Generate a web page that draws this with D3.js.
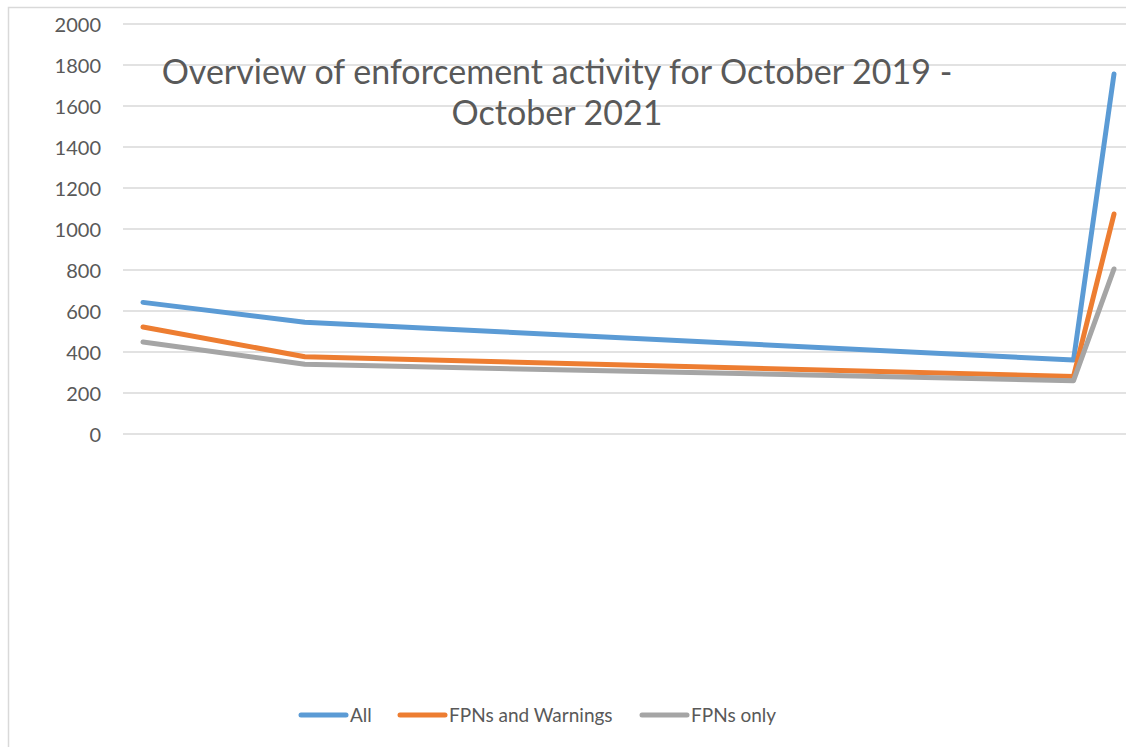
<!DOCTYPE html>
<html>
<head>
<meta charset="utf-8">
<script src="https://cdn.jsdelivr.net/npm/d3@7"></script>
<style>
  html, body { margin: 0; padding: 0; background: #fff; }
  svg { display: block; }
</style>
</head>
<body>
<svg id="chart" width="1126" height="747"></svg>
<script>
// months Oct 2019 .. Oct 2021, only some have figures
var months = ["Oct 2019","Nov 2019","Dec 2019","Jan 2020","Feb 2020","Mar 2020","Apr 2020","May 2020",
              "Jun 2020","Jul 2020","Aug 2020","Sep 2020","Oct 2020","Nov 2020","Dec 2020","Jan 2021",
              "Feb 2021","Mar 2021","Apr 2021","May 2021","Jun 2021","Jul 2021","Aug 2021","Sep 2021","Oct 2021"];

var allValues      = [642, null, null, null, 545, null, null, null, null, null, null, null, null, null, null, null, null, null, null, null, null, null, null, 361, 1756];
var fpnWarnValues  = [522, null, null, null, 377, null, null, null, null, null, null, null, null, null, null, null, null, null, null, null, null, null, null, 281, 1073];
var fpnOnlyValues  = [449, null, null, null, 340, null, null, null, null, null, null, null, null, null, null, null, null, null, null, null, null, null, null, 260, 805];

var seriesNames  = ["All", "FPNs and Warnings", "FPNs only"];
var seriesColors = ["#5B9BD5", "#ED7D31", "#A5A5A5"];
var yTicks = [0, 200, 400, 600, 800, 1000, 1200, 1400, 1600, 1800, 2000];

var titleLines = ["Overview of enforcement activity for October 2019 -", "October 2021"];

var svg = d3.select("#chart");
var textColor = "#595959";
var font = "Lato, 'Open Sans', sans-serif";

// chart frame
svg.append("rect")
    .attr("x", 8.5).attr("y", 7.5)
    .attr("width", 1200).attr("height", 800)
    .attr("fill", "#fff")
    .attr("stroke", "#D9D9D9")
    .attr("stroke-width", 1.5);

var x = d3.scalePoint()
    .domain(months)
    .range([143, 1114]);

var y = d3.scaleLinear()
    .domain([0, 2000])
    .range([434, 24]);

// gridlines
svg.append("g")
    .selectAll("line")
    .data(yTicks)
    .join("line")
    .attr("x1", 123).attr("x2", 1126)
    .attr("y1", d => y(d)).attr("y2", d => y(d))
    .attr("stroke", "#D9D9D9")
    .attr("stroke-width", 1.3);

// y axis labels
var yAxis = d3.axisLeft(y).tickValues(yTicks).tickSize(0).tickPadding(0).tickFormat(d3.format("d"));
var yg = svg.append("g")
    .attr("transform", "translate(101,0)")
    .call(yAxis);
yg.select(".domain").remove();
yg.selectAll("text")
    .attr("fill", textColor)
    .attr("font-family", font)
    .attr("font-size", 20)
    .attr("dy", "0.36em");

// title
svg.append("g")
    .selectAll("text")
    .data(titleLines)
    .join("text")
    .attr("x", 557)
    .attr("y", (d, i) => 84 + i * 41)
    .attr("text-anchor", "middle")
    .attr("fill", textColor)
    .attr("font-family", font)
    .attr("font-size", 34)
    .text(d => d);

var series = [allValues, fpnWarnValues, fpnOnlyValues];

var line = d3.line()
    .x(d => x(d.month))
    .y(d => y(d.value));

series.forEach(function(vals, s) {
    var pts = months.map((m, i) => ({month: m, value: vals[i]}))
        .filter(d => d.value != null);
    svg.append("path")
        .datum(pts)
        .attr("d", line)
        .attr("fill", "none")
        .attr("stroke", seriesColors[s])
        .attr("stroke-width", 5)
        .attr("stroke-linejoin", "round")
        .attr("stroke-linecap", "round");
});

// legend
var legendX = [301, 400, 642];
var legend = svg.append("g");
seriesNames.forEach(function(name, i) {
    legend.append("line")
        .attr("x1", legendX[i]).attr("x2", legendX[i] + 45)
        .attr("y1", 715).attr("y2", 715)
        .attr("stroke", seriesColors[i])
        .attr("stroke-width", 5)
        .attr("stroke-linecap", "round");
    legend.append("text")
        .attr("x", legendX[i] + 49)
        .attr("y", 722)
        .attr("fill", textColor)
        .attr("font-family", font)
        .attr("font-size", 19)
        .text(name);
});
</script>
</body>
</html>
